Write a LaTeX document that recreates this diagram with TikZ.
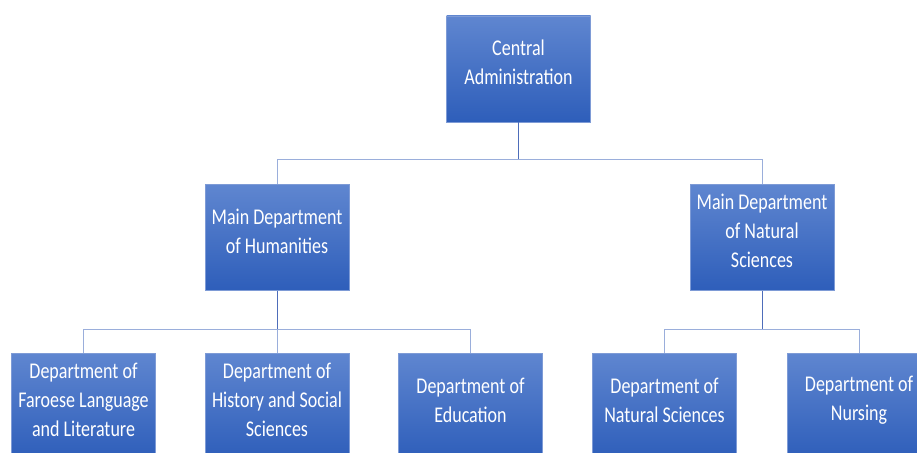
\documentclass[tikz,border=0pt]{standalone}
\usepackage{fontspec}
\setmainfont{Carlito}[FakeStretch=0.8]
\begin{document}
\begin{tikzpicture}[x=1pt,y=-1pt,
  box/.style={draw=boxedge, line width=0.6pt, top color=boxtop, bottom color=boxbot, minimum width=144pt, minimum height=106pt, inner sep=0pt},
  lbl/.style={text=white, align=center, font=\fontsize{22.5}{28.8}\selectfont, inner sep=0pt},
  stem/.style={draw=stemcol, line width=1pt},
  bar/.style={draw=barcol, line width=1pt}]
\definecolor{boxtop}{HTML}{5F86D0}
\definecolor{boxbot}{HTML}{2E5EBA}
\definecolor{boxedge}{HTML}{7E9BD6}
\definecolor{stemcol}{HTML}{4E6DBA}
\definecolor{barcol}{HTML}{9AAEDB}
\useasboundingbox (0,0) rectangle (917,452);
\clip (0,0) rectangle (917,452);
% boxes
\node[box] (ca) at (518.5,69) {};
\node[box] (mh) at (277,237.5) {};
\node[box] (mn) at (762,237.5) {};
\node[box] (d1) at (83.5,406) {};
\node[box] (d2) at (277,406) {};
\node[box] (d3) at (470.5,406) {};
\node[box] (d4) at (664.5,406) {};
\node[box] (d5) at (859,406) {};
% labels
\node[lbl] (tca) at (518.5,62) {Central\\Administration};
\node[lbl] (tmh) at (277,231) {Main Department\\of Humanities};
\node[lbl] (tmn) at (762,231) {Main Department\\of Natural\\Sciences};
\node[lbl] (t1) at (83.5,400) {Department of\\Faroese Language\\and Literature};
\node[lbl] (t2) at (277,400) {Department of\\History and Social\\Sciences};
\node[lbl] (t3) at (470.5,400) {Department of\\Education};
\node[lbl] (t4) at (664.5,400) {Department of\\Natural Sciences};
\node[lbl] (t5) at (859,400) {Department of\\Nursing};
% bar levels
\coordinate (b1) at (0,159);
\coordinate (b2) at (0,329);
% connectors
\draw[bar] (mh.north) -- (mh.north |- b1) -- (mn.north |- b1) -- (mn.north);
\draw[stem] (ca.south) -- (ca.south |- b1);
\draw[bar] (d1.north) -- (d1.north |- b2) -- (d3.north |- b2) -- (d3.north);
\draw[bar] (d2.north) -- (d2.north |- b2);
\draw[stem] (mh.south) -- (mh.south |- b2);
\draw[bar] (d4.north) -- (d4.north |- b2) -- (d5.north |- b2) -- (d5.north);
\draw[stem] (mn.south) -- (mn.south |- b2);
\end{tikzpicture}
\end{document}
